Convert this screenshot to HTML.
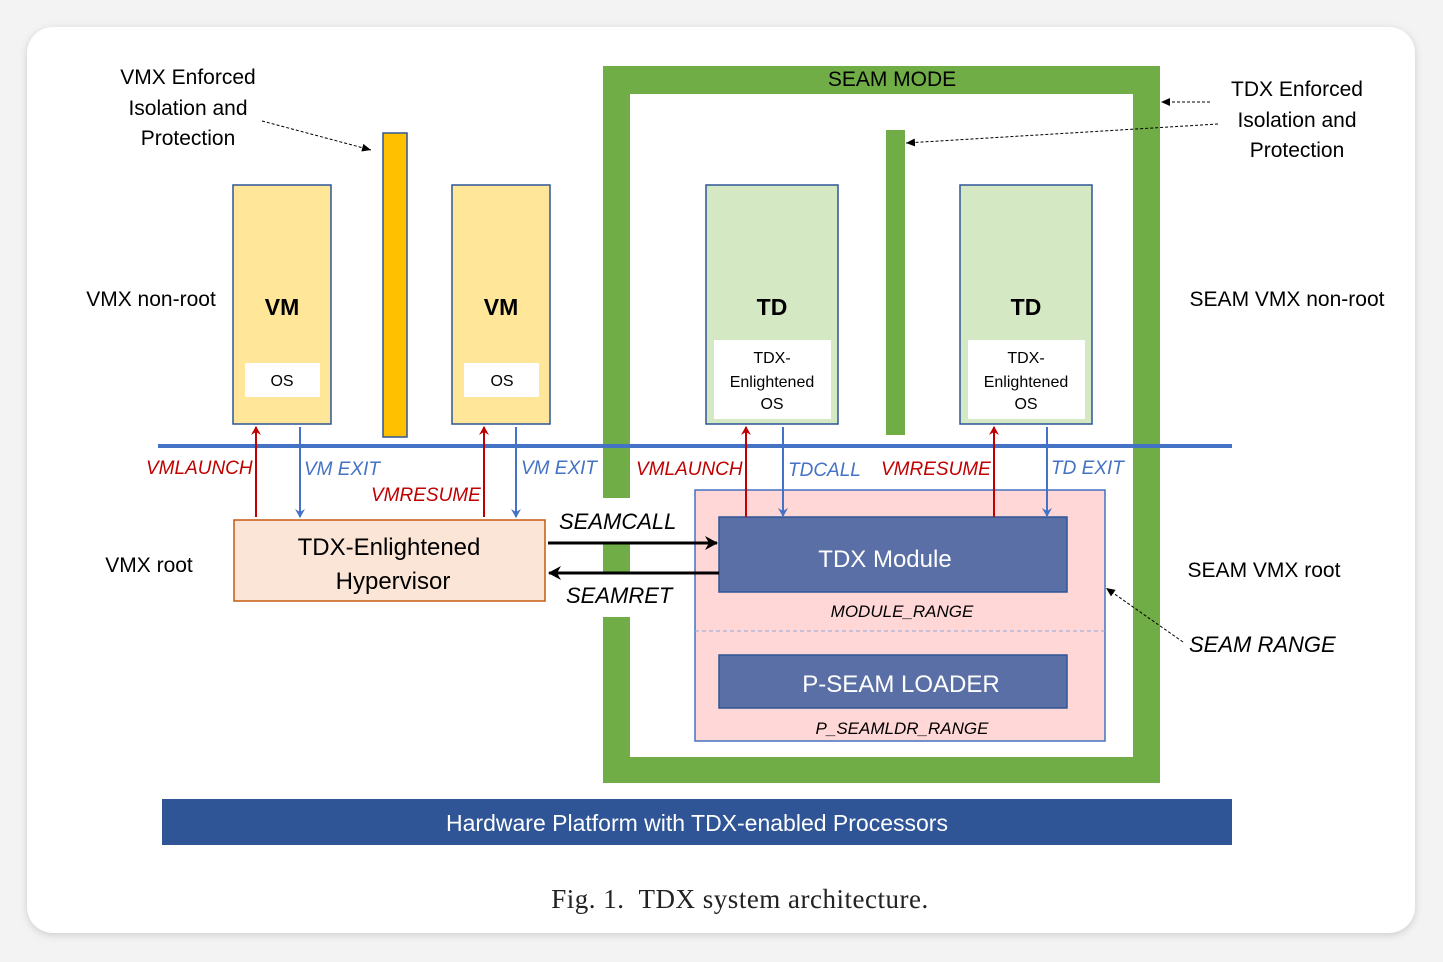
<!DOCTYPE html>
<html><head><style>
body{margin:0;background:#f3f3f3;width:1443px;height:962px;overflow:hidden}
svg{position:absolute;left:0;top:0}
text{font-family:"Liberation Sans",sans-serif}
</style></head><body>
<svg width="1443" height="962" viewBox="0 0 1443 962">
<defs>
<filter id="sh" x="-5%" y="-5%" width="110%" height="110%"><feGaussianBlur stdDeviation="4"/></filter>
<marker id="ar" markerWidth="10" markerHeight="10" refX="8" refY="5" orient="auto" markerUnits="userSpaceOnUse"><path d="M0,0 L9,5 L0,10 L3,5z" fill="#c00000"/></marker>
<marker id="ab" markerWidth="10" markerHeight="10" refX="8" refY="5" orient="auto" markerUnits="userSpaceOnUse"><path d="M0,0 L9,5 L0,10 L3,5z" fill="#4472c4"/></marker>
<marker id="ak" markerWidth="14" markerHeight="14" refX="12" refY="7" orient="auto" markerUnits="userSpaceOnUse"><path d="M0,0 L13,7 L0,14 L4,7z" fill="#000"/></marker>
<marker id="ad" markerWidth="10" markerHeight="10" refX="9" refY="5" orient="auto" markerUnits="userSpaceOnUse"><path d="M0,1 L9,5 L0,9z" fill="#000"/></marker>
</defs>
<rect x="27" y="29" width="1388" height="906" rx="26" fill="#ccc" filter="url(#sh)"/>
<rect x="27" y="27" width="1388" height="906" rx="26" fill="#fff"/>

<rect x="603" y="66" width="557" height="28" fill="#70ad47"/>
<rect x="1133" y="66" width="27" height="717" fill="#70ad47"/>
<rect x="603" y="757" width="557" height="26" fill="#70ad47"/>
<rect x="603" y="66" width="27" height="432" fill="#70ad47"/>
<rect x="603" y="543" width="27" height="29" fill="#70ad47"/>
<rect x="603" y="617" width="27" height="166" fill="#70ad47"/>
<text x="892" y="86" font-size="21" text-anchor="middle">SEAM MODE</text>
<rect x="886" y="130" width="19" height="305" fill="#70ad47"/>

<rect x="383" y="133" width="24" height="304" fill="#ffc000" stroke="#2f5597" stroke-width="1.5"/>

<rect x="233" y="185" width="98" height="239" fill="#ffe699" stroke="#2f5597" stroke-width="1.5"/>
<text x="282" y="315" font-size="23" font-weight="bold" text-anchor="middle">VM</text>
<rect x="245" y="363" width="75" height="34" fill="#fff"/>
<text x="282" y="386" font-size="16" text-anchor="middle">OS</text>
<rect x="452" y="185" width="98" height="239" fill="#ffe699" stroke="#2f5597" stroke-width="1.5"/>
<text x="501" y="315" font-size="23" font-weight="bold" text-anchor="middle">VM</text>
<rect x="464" y="363" width="75" height="34" fill="#fff"/>
<text x="502" y="386" font-size="16" text-anchor="middle">OS</text>

<rect x="706" y="185" width="132" height="239" fill="#d5e8c4" stroke="#2f5597" stroke-width="1.5"/>
<text x="772" y="315" font-size="23" font-weight="bold" text-anchor="middle">TD</text>
<rect x="714" y="340" width="117" height="79" fill="#fff"/>
<text x="772" y="363" font-size="16" text-anchor="middle">TDX-</text>
<text x="772" y="387" font-size="16" text-anchor="middle">Enlightened</text>
<text x="772" y="409" font-size="16" text-anchor="middle">OS</text>
<rect x="960" y="185" width="132" height="239" fill="#d5e8c4" stroke="#2f5597" stroke-width="1.5"/>
<text x="1026" y="315" font-size="23" font-weight="bold" text-anchor="middle">TD</text>
<rect x="968" y="340" width="117" height="79" fill="#fff"/>
<text x="1026" y="363" font-size="16" text-anchor="middle">TDX-</text>
<text x="1026" y="387" font-size="16" text-anchor="middle">Enlightened</text>
<text x="1026" y="409" font-size="16" text-anchor="middle">OS</text>

<line x1="158" y1="446" x2="1232" y2="446" stroke="#4472c4" stroke-width="4"/>

<rect x="695" y="490" width="410" height="251" fill="#ffd7d7" stroke="#4472c4" stroke-width="1.5"/>
<line x1="695" y1="631" x2="1105" y2="631" stroke="#8fa9dc" stroke-width="1" stroke-dasharray="4,3"/>
<rect x="719" y="517" width="348" height="75" fill="#5a6fa5" stroke="#2f5597" stroke-width="1.5"/>
<text x="885" y="567" font-size="24" fill="#fff" text-anchor="middle">TDX Module</text>
<text x="902" y="617" font-size="17" font-style="italic" text-anchor="middle">MODULE_RANGE</text>
<rect x="719" y="655" width="348" height="53" fill="#5a6fa5" stroke="#2f5597" stroke-width="1.5"/>
<text x="901" y="692" font-size="24" fill="#fff" text-anchor="middle">P-SEAM LOADER</text>
<text x="902" y="734" font-size="17" font-style="italic" text-anchor="middle">P_SEAMLDR_RANGE</text>

<rect x="234" y="520" width="311" height="81" fill="#fbe5d6" stroke="#c55a11" stroke-width="1.5"/>
<text x="389" y="555" font-size="24" text-anchor="middle">TDX-Enlightened</text>
<text x="393" y="589" font-size="24" text-anchor="middle">Hypervisor</text>

<g stroke-width="2" fill="none">
<line x1="256" y1="517" x2="256" y2="427" stroke="#c00000" marker-end="url(#ar)"/>
<line x1="300" y1="427" x2="300" y2="517" stroke="#4472c4" marker-end="url(#ab)"/>
<line x1="484" y1="517" x2="484" y2="427" stroke="#c00000" marker-end="url(#ar)"/>
<line x1="516" y1="427" x2="516" y2="517" stroke="#4472c4" marker-end="url(#ab)"/>
<line x1="746" y1="517" x2="746" y2="427" stroke="#c00000" marker-end="url(#ar)"/>
<line x1="783" y1="427" x2="783" y2="516" stroke="#4472c4" marker-end="url(#ab)"/>
<line x1="994" y1="517" x2="994" y2="427" stroke="#c00000" marker-end="url(#ar)"/>
<line x1="1047" y1="427" x2="1047" y2="516" stroke="#4472c4" marker-end="url(#ab)"/>
<line x1="548" y1="543" x2="717" y2="543" stroke="#000" stroke-width="3" marker-end="url(#ak)"/>
<line x1="719" y1="573" x2="549" y2="573" stroke="#000" stroke-width="3" marker-end="url(#ak)"/>
</g>
<g font-size="19" font-style="italic">
<text x="146" y="474" fill="#c00000">VMLAUNCH</text>
<text x="304" y="475" fill="#4472c4">VM EXIT</text>
<text x="371" y="501" fill="#c00000">VMRESUME</text>
<text x="521" y="474" fill="#4472c4">VM EXIT</text>
<text x="636" y="475" fill="#c00000">VMLAUNCH</text>
<text x="788" y="476" fill="#4472c4">TDCALL</text>
<text x="881" y="475" fill="#c00000">VMRESUME</text>
<text x="1051" y="474" fill="#4472c4">TD EXIT</text>
<text x="559" y="529" font-size="22" fill="#000">SEAMCALL</text>
<text x="566" y="603" font-size="22" fill="#000">SEAMRET</text>
<text x="1189" y="652" font-size="22" fill="#000">SEAM RANGE</text>
</g>

<g font-size="21">
<text x="151" y="306" text-anchor="middle">VMX non-root</text>
<text x="149" y="572" text-anchor="middle">VMX root</text>
<text x="1287" y="306" text-anchor="middle">SEAM VMX non-root</text>
<text x="1264" y="577" text-anchor="middle">SEAM VMX root</text>
<text x="188" y="84" text-anchor="middle">VMX Enforced</text>
<text x="188" y="115" text-anchor="middle">Isolation and</text>
<text x="188" y="145" text-anchor="middle">Protection</text>
<text x="1297" y="96" text-anchor="middle">TDX Enforced</text>
<text x="1297" y="127" text-anchor="middle">Isolation and</text>
<text x="1297" y="157" text-anchor="middle">Protection</text>
</g>
<g stroke="#000" stroke-width="1" stroke-dasharray="3,2" fill="none">
<line x1="262" y1="121" x2="371" y2="150" marker-end="url(#ad)"/>
<line x1="1210" y1="102" x2="1161" y2="102" marker-end="url(#ad)"/>
<line x1="1218" y1="124" x2="906" y2="143" marker-end="url(#ad)"/>
<line x1="1183" y1="642" x2="1106" y2="588" marker-end="url(#ad)"/>
</g>

<rect x="162" y="799" width="1070" height="46" fill="#2f5597"/>
<text x="697" y="831" font-size="23" fill="#fff" text-anchor="middle">Hardware Platform with TDX-enabled Processors</text>
<text x="740" y="908" font-size="27" xml:space="preserve" style="font-family:'Liberation Serif',serif;letter-spacing:0.5px" text-anchor="middle" fill="#222">Fig. 1.  TDX system architecture.</text>
</svg>
</body></html>
